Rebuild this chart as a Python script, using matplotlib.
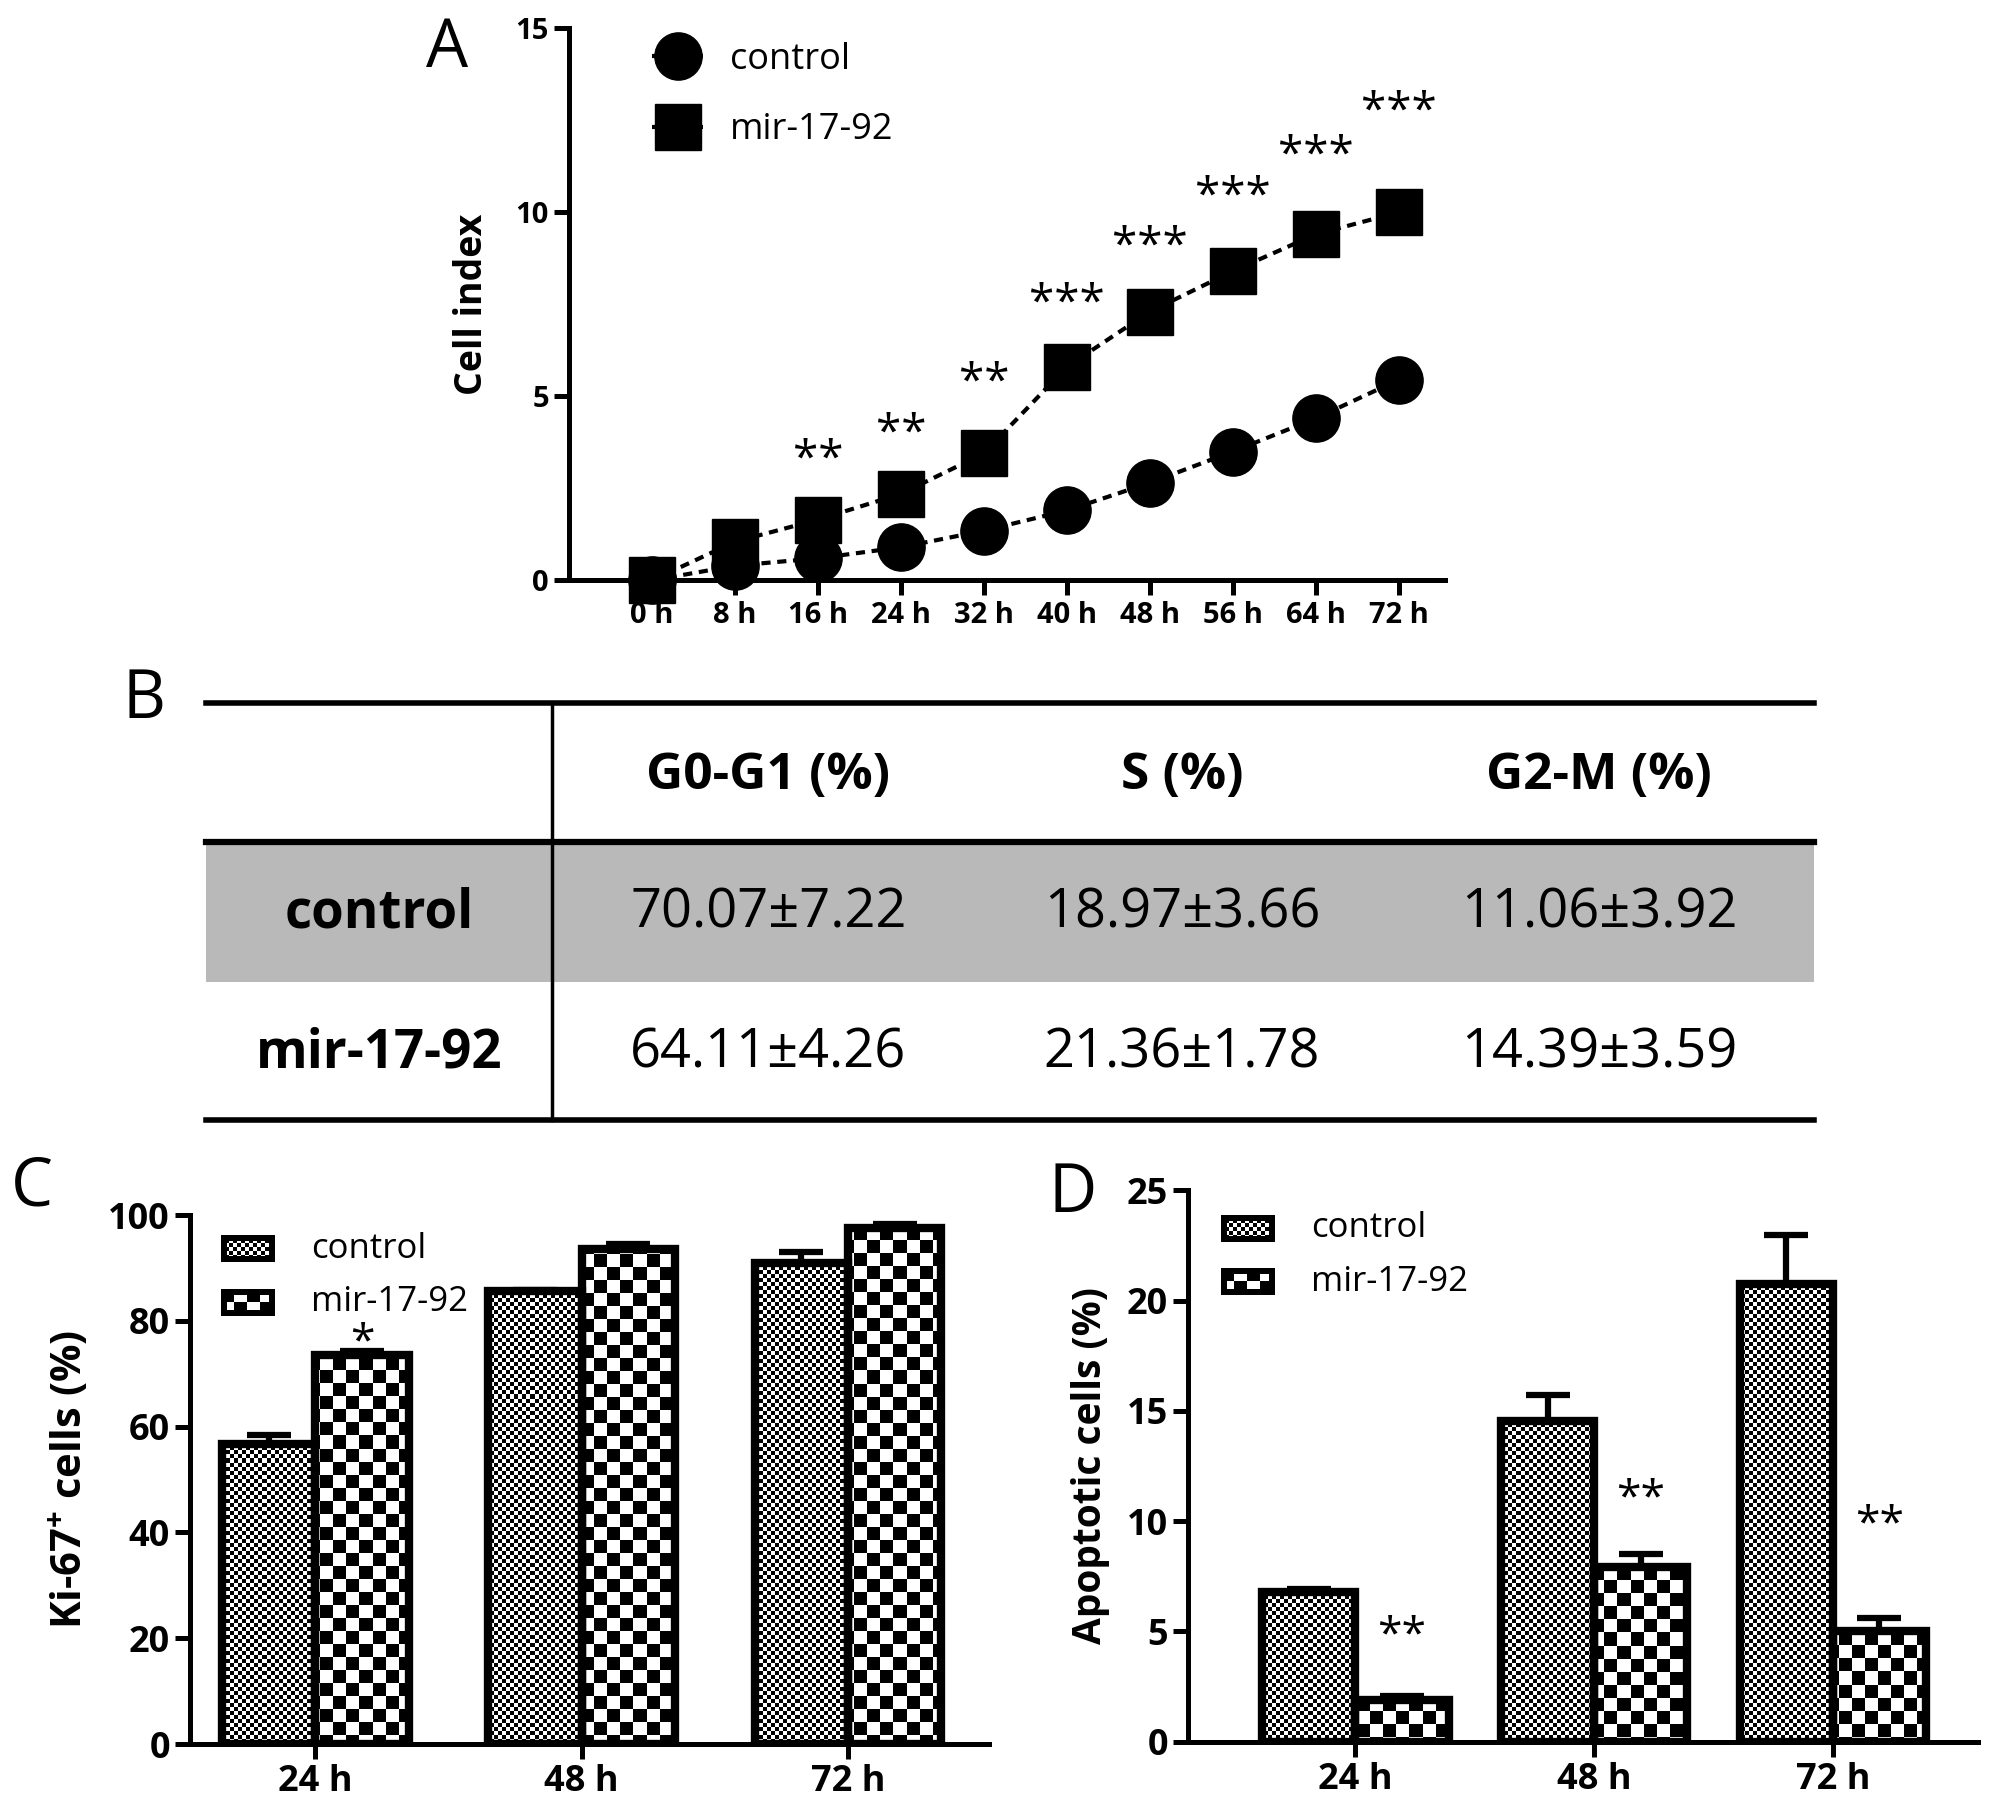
import matplotlib
matplotlib.use('Agg')
import matplotlib.pyplot as plt
import numpy as np
from matplotlib.offsetbox import OffsetImage, TextArea, HPacker, VPacker, AnchoredOffsetbox

plt.rcParams['font.family'] = ['Open Sans', 'DejaVu Sans']
plt.rcParams['mathtext.fontset'] = 'custom'
plt.rcParams['mathtext.rm'] = 'Open Sans'
plt.rcParams['mathtext.bf'] = 'Open Sans:bold'

# ---- data ----
# A: cell index over time
hours = [0, 8, 16, 24, 32, 40, 48, 56, 64, 72]
ci_control = [0.0, 0.4, 0.6, 0.9, 1.35, 1.9, 2.65, 3.5, 4.4, 5.45]
ci_mir = [0.0, 1.05, 1.65, 2.35, 3.45, 5.8, 7.3, 8.4, 9.4, 10.0]
ci_stars = ['', '', '**', '**', '**', '***', '***', '***', '***', '***']

# B: cell cycle table
phases = ['G0-G1 (%)', 'S (%)', 'G2-M (%)']
groups = ['control', 'mir-17-92']
cc_control_mean = [70.07, 18.97, 11.06]
cc_control_sd = [7.22, 3.66, 3.92]
cc_mir_mean = [64.11, 21.36, 14.39]
cc_mir_sd = [4.26, 1.78, 3.59]

# C: Ki-67+ cells
times = ['24 h', '48 h', '72 h']
ki_control = [56.8, 85.7, 91.0]
ki_control_err = [1.6, 0.2, 2.1]
ki_mir = [73.6, 93.5, 97.6]
ki_mir_err = [0.7, 1.0, 0.7]
ki_stars = ['*', '', '']

# D: apoptotic cells
apo_control = [6.8, 14.55, 20.75]
apo_control_err = [0.12, 1.15, 2.25]
apo_mir = [1.9, 7.9, 5.0]
apo_mir_err = [0.15, 0.6, 0.6]
apo_stars = ['**', '**', '**']

LW = 3.6
BAR_LW = 6.0

fig = plt.figure(figsize=(20.08, 18.07), dpi=100)


def style_axes(ax, fs):
    for s in ['top', 'right']:
        ax.spines[s].set_visible(False)
    for s in ['left', 'bottom']:
        ax.spines[s].set_linewidth(LW)
    ax.tick_params(width=LW, length=11, labelsize=fs, direction='out')
    for lab in ax.get_xticklabels() + ax.get_yticklabels():
        lab.set_fontweight('bold')


def checker(ny, nx, cell):
    iy = np.arange(ny) // cell
    ix = np.arange(nx) // cell
    return ((iy[:, None] + ix[None, :]) % 2).astype(float)


def fill_checker(ax, bars, cell):
    x0, x1 = ax.get_xlim()
    y0, y1 = ax.get_ylim()
    arr = checker(int(ax.bbox.height), int(ax.bbox.width), cell)
    for b in bars:
        im = ax.imshow(arr, extent=(x0, x1, y0, y1), origin='upper', cmap='gray',
                       vmin=0, vmax=1, interpolation='nearest', aspect='auto', zorder=1)
        im.set_clip_path(b)
    ax.set_xlim(x0, x1)
    ax.set_ylim(y0, y1)


def key_image(cell):
    arr = checker(27, 54, cell)
    b = 6
    arr[:b, :] = 0
    arr[-b:, :] = 0
    arr[:, :b] = 0
    arr[:, -b:] = 0
    return OffsetImage(arr, zoom=72 / 100, cmap='gray', interpolation='nearest',
                       norm=plt.Normalize(0, 1))


def bar_legend(ax, anchor):
    rows = []
    for cell, name in [(4, groups[0]), (13, groups[1])]:
        rows.append(HPacker(children=[key_image(cell),
                                      TextArea(name, textprops=dict(fontsize=25))],
                            align='center', pad=0, sep=26))
    box = VPacker(children=rows, align='left', pad=0, sep=14)
    ab = AnchoredOffsetbox(loc='upper left', child=box, pad=0, frameon=False,
                           bbox_to_anchor=anchor, bbox_transform=ax.transAxes,
                           borderpad=0)
    ax.add_artist(ab)


def bar_panel(ax, ctrl, ctrl_err, mir, mir_err, stars, star_pad, ymax, step,
              xlim, width, ylabel, ylabel_fs):
    x = np.arange(len(times))
    bc = ax.bar(x - width / 2, ctrl, width, facecolor='none', edgecolor='k',
                linewidth=BAR_LW, zorder=3)
    bm = ax.bar(x + width / 2, mir, width, facecolor='none', edgecolor='k',
                linewidth=BAR_LW, zorder=3)
    ax.errorbar(x - width / 2, ctrl, yerr=[np.zeros(len(x)), ctrl_err], fmt='none',
                ecolor='k', elinewidth=4.5, capsize=16, capthick=4.5, zorder=2)
    ax.errorbar(x + width / 2, mir, yerr=[np.zeros(len(x)), mir_err], fmt='none',
                ecolor='k', elinewidth=4.5, capsize=16, capthick=4.5, zorder=2)
    ax.set_xlim(*xlim)
    ax.set_ylim(0, ymax)
    ax.set_xticks(x)
    ax.set_xticklabels(times)
    ax.set_yticks(np.arange(0, ymax + 0.1, step))
    style_axes(ax, 26)
    ax.set_ylabel(ylabel, fontsize=ylabel_fs, fontweight='bold', labelpad=12)
    fill_checker(ax, bc, 4)
    fill_checker(ax, bm, 13)
    for xi, m, e, s, p in zip(x, mir, mir_err, stars, star_pad):
        if s:
            ax.text(xi + width / 2, m + e + p, s, ha='center', va='center',
                    fontsize=32)


# ---- panel A ----
axA = fig.add_axes([0.2834, 0.6788, 0.4364, 0.3056])
ls = (0, (2.2, 1.6))
axA.plot(hours, ci_control, color='k', linestyle=ls, linewidth=3, marker='o',
         markersize=34, label=groups[0], clip_on=False, zorder=3)
axA.plot(hours, ci_mir, color='k', linestyle=ls, linewidth=3, marker='s',
         markersize=33, label=groups[1], clip_on=False, zorder=4)
star_pad_A = [0, 0, 1.6, 1.6, 1.9, 1.7, 1.75, 2.0, 2.1, 2.7]
for h, v, s, p in zip(hours, ci_mir, ci_stars, star_pad_A):
    if s:
        axA.text(h, v + p, s, ha='center', va='center', fontsize=33)
axA.set_xlim(-8, 76.5)
axA.set_ylim(0, 15)
axA.set_xticks(hours)
axA.set_xticklabels([f'{h} h' for h in hours])
axA.set_yticks([0, 5, 10, 15])
style_axes(axA, 21)
axA.set_ylabel('Cell index', fontsize=27, fontweight='bold', labelpad=18)
axA.legend(loc='upper left', bbox_to_anchor=(0.095, 0.975), frameon=False,
           fontsize=26, handlelength=1.4, handletextpad=0.75, labelspacing=0.95,
           borderpad=0, borderaxespad=0)

# ---- panel B (table) ----
tab = fig.add_axes([0, 0, 1, 1], zorder=-1)
tab.set_xlim(0, 1)
tab.set_ylim(0, 1)
tab.axis('off')
tx0, tx1 = 0.1024, 0.9034
y_top, y_head, y_band, y_bot = 0.6112, 0.5338, 0.4563, 0.3802
x_div = 0.2751
tab.fill_between([tx0, tx1], y_band, y_head, color='#b9b9b9', linewidth=0)
tab.plot([tx0, tx1], [y_top, y_top], color='k', linewidth=4)
tab.plot([tx0, tx1], [y_head, y_head], color='k', linewidth=4.5)
tab.plot([tx0, tx1], [y_bot, y_bot], color='k', linewidth=4)
tab.plot([x_div, x_div], [y_top, y_bot], color='k', linewidth=2.5)
col_x = [0.3826, 0.5886, 0.7965]
label_x = 0.1887
row_y = [0.4947, 0.4172]
for cx, ph in zip(col_x, phases):
    tab.text(cx, 0.5707, ph, ha='center', va='center', fontsize=37,
             fontweight='bold')
for ry, g, means, sds in zip(row_y, groups, [cc_control_mean, cc_mir_mean],
                             [cc_control_sd, cc_mir_sd]):
    tab.text(label_x, ry, g, ha='center', va='center', fontsize=38,
             fontweight='bold')
    for cx, m, s in zip(col_x, means, sds):
        tab.text(cx, ry, f'{m:.2f}\u00b1{s:.2f}', ha='center', va='center',
                 fontsize=39)

# ---- panel C ----
axC = fig.add_axes([0.0947, 0.0348, 0.3979, 0.2928])
bar_panel(axC, ki_control, ki_control_err, ki_mir, ki_mir_err, ki_stars,
          [1.4, 0, 0], 100, 20, (-0.47, 2.53), 0.35,
          r'Ki-67$^{\mathbf{+}}$ cells (%)', 30)
bar_legend(axC, (0.039, 0.968))

# ---- panel D ----
axD = fig.add_axes([0.5918, 0.0362, 0.3935, 0.305])
bar_panel(axD, apo_control, apo_control_err, apo_mir, apo_mir_err, apo_stars,
          [2.75, 2.5, 4.2], 25, 5, (-0.70, 2.61), 0.39, 'Apoptotic cells (%)', 28)
bar_legend(axD, (0.041, 0.962))

# panel letters
for lx, ly, letter in [(0.2227, 0.973, 'A'), (0.0717, 0.6127, 'B'),
                       (0.016, 0.3426, 'C'), (0.5342, 0.339, 'D')]:
    fig.text(lx, ly, letter, ha='center', va='center', fontsize=48)

fig.savefig('out.png', dpi=100)
